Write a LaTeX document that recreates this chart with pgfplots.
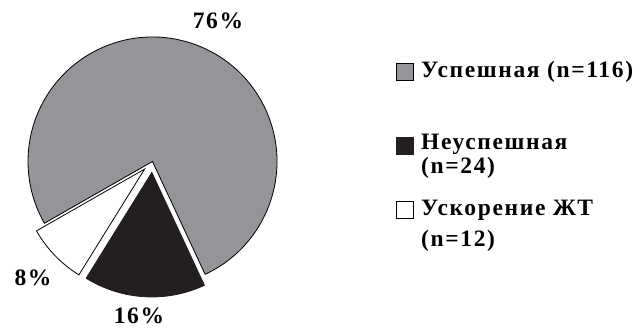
\documentclass[border=0pt]{standalone}
\usepackage{pgfplots}
\pgfplotsset{compat=1.18}
\usepackage{pgfplotstable}
\usepackage{fontspec}
\setmainfont{Liberation Serif}
\newfontfamily\chartfont[LetterSpace=7]{Liberation Serif}

\definecolor{sliceGrey}{RGB}{148,149,153}
\definecolor{sliceBlack}{RGB}{35,31,32}

% outcome counts: successful, unsuccessful, VT acceleration
\pgfplotstableread[col sep=comma]{
n,pct
116,76
24,16
12,8
}\outcomes

\pgfplotstablegetelem{0}{n}\of\outcomes \let\nA\pgfplotsretval
\pgfplotstablegetelem{1}{n}\of\outcomes \let\nB\pgfplotsretval
\pgfplotstablegetelem{2}{n}\of\outcomes \let\nC\pgfplotsretval
\pgfplotstablegetelem{0}{pct}\of\outcomes \let\pA\pgfplotsretval
\pgfplotstablegetelem{1}{pct}\of\outcomes \let\pB\pgfplotsretval
\pgfplotstablegetelem{2}{pct}\of\outcomes \let\pC\pgfplotsretval

\begin{document}
\begin{tikzpicture}
\useasboundingbox (0,0) rectangle (644pt,329pt);
\pgfmathsetmacro\total{\nA+\nB+\nC}
\pgfmathsetmacro\aStart{-65}
\pgfmathsetmacro\aEnd{\aStart+\nA/\total*360}
\pgfmathsetmacro\cEnd{\aEnd+\nC/\total*360}
\pgfmathsetmacro\bEnd{\cEnd+\nB/\total*360}
\pgfmathsetmacro\cMid{(\aEnd+\cEnd)/2}
\pgfmathsetmacro\bMid{(\cEnd+\bEnd)/2}
\def\R{124.5}
\def\cx{152.5}
\def\cy{167.5}
\def\ex{11}
\begin{axis}[
  at={(0,0)}, anchor=south west,
  scale only axis, x=1pt, y=1pt,
  xmin=0, xmax=644, ymin=0, ymax=329,
  hide axis, clip=false,
  font=\chartfont\bfseries\fontsize{23.5}{28}\selectfont,
]
% successful
\filldraw[fill=sliceGrey, draw=black, line width=0.8pt, line join=miter]
  (axis cs:\cx,\cy) -- ++(\aStart:\R pt) arc[start angle=\aStart, end angle=\aEnd, radius=\R pt] -- cycle;
% VT acceleration (pulled out)
\filldraw[fill=white, draw=black, line width=0.8pt, line join=miter, shift={(\cMid:\ex pt)}]
  (axis cs:\cx,\cy) -- ++(\aEnd:\R pt) arc[start angle=\aEnd, end angle=\cEnd, radius=\R pt] -- cycle;
% unsuccessful (pulled out)
\filldraw[fill=sliceBlack, draw=sliceBlack, line width=0.8pt, line join=miter, shift={(\bMid:\ex pt)}]
  (axis cs:\cx,\cy) -- ++(\cEnd:\R pt) arc[start angle=\cEnd, end angle=\bEnd, radius=\R pt] -- cycle;

% percentage labels
\node[anchor=center, inner sep=0] at (axis cs:218,308) {\pA\%};
\node[anchor=center, inner sep=0] at (axis cs:33,51) {\pC\%};
\node[anchor=north, inner sep=0] at (axis cs:139,21) {\pB\%};

% legend
\filldraw[fill=sliceGrey, draw=black, line width=0.6pt] (axis cs:396,249) rectangle (axis cs:413,266);
\node[anchor=west, inner sep=0] at (axis cs:421,257) {Успешная (n=\nA)};
\filldraw[fill=sliceBlack, draw=sliceBlack, line width=0.6pt] (axis cs:396,175) rectangle (axis cs:413,192);
\node[anchor=west, inner sep=0] at (axis cs:421,185) {Неуспешная};
\node[anchor=west, inner sep=0] at (axis cs:421,161) {(n=\nB)};
\filldraw[fill=white, draw=black, line width=0.6pt] (axis cs:396,111) rectangle (axis cs:413,128);
\node[anchor=west, inner sep=0] at (axis cs:421,119) {Ускорение ЖТ};
\node[anchor=west, inner sep=0] at (axis cs:421,88) {(n=\nC)};
\end{axis}
\end{tikzpicture}
\end{document}
